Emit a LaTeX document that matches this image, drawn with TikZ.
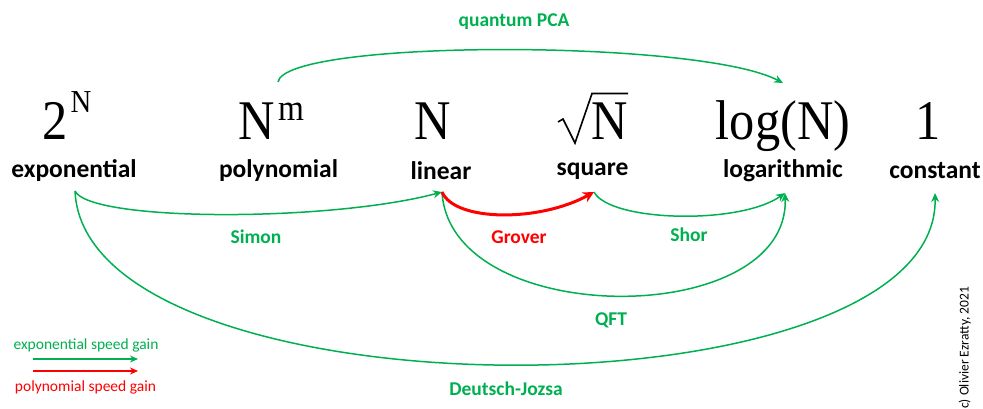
\documentclass[tikz,border=0pt]{standalone}
\usepackage{fontspec}
\setmainfont{Carlito}
\newfontfamily\fmla{Liberation Serif}
\usetikzlibrary{arrows.meta}
\definecolor{ogreen}{HTML}{00B050}
\definecolor{ored}{HTML}{FF0000}
\newcommand{\bigf}[1]{\scalebox{0.9}[1]{\fmla\fontsize{56}{56}\selectfont #1}}
\newcommand{\supf}[3]{\raisebox{#2}{\scalebox{0.9}[1]{\fmla\fontsize{#1}{#1}\selectfont #3}}}
\tikzset{
  cx/.style={inner sep=0pt, anchor=base},
  lbl/.style={font=\fontsize{25.5}{25.5}\selectfont\bfseries, inner sep=1pt},
  alg/.style={font=\fontsize{19.5}{19.5}\selectfont\bfseries, inner sep=0pt},
  leg/.style={font=\fontsize{15.5}{15.5}\selectfont, inner sep=0pt},
  garr/.style={draw=ogreen, line width=1.5pt, -{Stealth[length=9pt,width=8pt]}},
  rarr/.style={draw=ored, line width=3pt, -{Stealth[length=11pt,width=11pt]}},
}
\begin{document}
\begin{tikzpicture}[x=1pt,y=-1pt]
\useasboundingbox (0,0) rectangle (983,409);
% complexity symbols
\node[cx] (s1) at (67,140) {\bigf{2}\hspace{3pt}\supf{32}{27pt}{N}};
\node[cx] (s2) at (271.5,140) {\bigf{N}\hspace{3pt}\supf{37}{20pt}{m}};
\node[cx] (s3) at (433,140) {\bigf{N}};
\node[cx] (s4) at (610,140) {\bigf{N}};
\node[cx] (s5) at (783,140) {\bigf{log(N)}};
\node[cx] (s6) at (928,140) {\bigf{1}};
\draw[line width=1.6pt, line join=miter] (558,122) -- (563,119) -- (575,143) -- (592,93.5) -- (628,93.5);
% labels
\node[lbl] (ex) at (74,171) {exponential};
\node[lbl] (po) at (278.5,171) {polynomial};
\node[lbl] (li) at (441,171) {linear};
\node[lbl] (sq) at (592.5,171) {square};
\node[lbl] (lo) at (783,171) {logarithmic};
\node[lbl] (co) at (935,171) {constant};
% connector end points
\coordinate (exb) at (75,191);
\coordinate (lib) at (442,192);
\coordinate (sqb) at (594,192);
\coordinate (lob) at (785,193);
\coordinate (cob) at (935,193);
\coordinate (pot) at (278,82);
\coordinate (lot) at (783,83);
% arrows
\draw[garr] (exb) .. controls (90,222) and (330,222) .. (lib);
\draw[garr] (sqb) .. controls (610,222) and (740,225) .. (lob);
\draw[garr] (lib) .. controls (450,330) and (790,330) .. (lob);
\draw[garr] (exb) .. controls (85,422) and (940,422) .. (cob);
\draw[garr] (pot) .. controls (285,39) and (700,39) .. (lot);
\draw[rarr] (lib) .. controls (455,222) and (540,222) .. (sqb);
% algorithm labels
\node[alg, text=ogreen] (simon) at (256,237) {Simon};
\node[alg, text=ored] (grover) at (519,237) {Grover};
\node[alg, text=ogreen] (shor) at (689,235) {Shor};
\node[alg, text=ogreen] (qft) at (611,320) {QFT};
\node[alg, text=ogreen] (dj) at (506,389) {Deutsch-Jozsa};
\node[alg, text=ogreen] (qpca) at (514,22) {quantum PCA};
% legend
\node[leg, text=ogreen] (lg1) at (86,345) {exponential speed gain};
\node[leg, text=ored] (lg2) at (85.5,387) {polynomial speed gain};
\coordinate (g1a) at (33,359); \coordinate (g1b) at (138,359);
\coordinate (r1a) at (33,371); \coordinate (r1b) at (138,371);
\draw[draw=ogreen, line width=1.4pt, -{Stealth[length=8pt,width=7pt]}] (g1a) -- (g1b);
\draw[draw=ored, line width=1.4pt, -{Stealth[length=8pt,width=7pt]}] (r1a) -- (r1b);
% copyright
\node[font=\fontsize{13.5}{13.5}\selectfont, rotate=90, anchor=south west, inner sep=0pt] (copy) at (971,409) {c) Olivier Ezratty, 2021};
\end{tikzpicture}
\end{document}
